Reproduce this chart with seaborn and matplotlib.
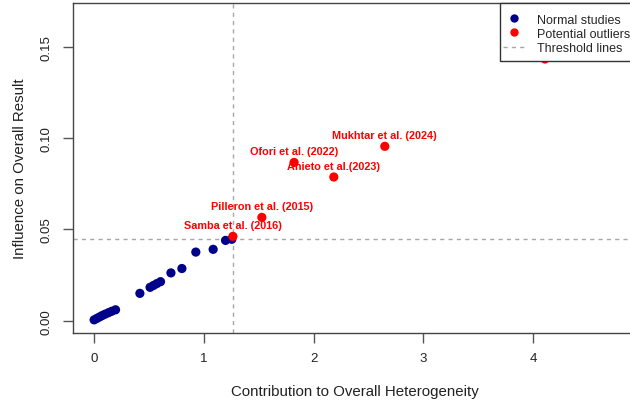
import numpy as np
import pandas as pd
import matplotlib
matplotlib.use("Agg")
import matplotlib.pyplot as plt
import seaborn as sns
from matplotlib.lines import Line2D
from matplotlib.patches import Rectangle

# ---- data ----
normal_x = [0.00, 0.025, 0.05, 0.075, 0.10, 0.13, 0.16, 0.195, 0.417, 0.51, 0.54, 0.57, 0.605,
            0.70, 0.80, 0.927, 1.085, 1.198, 1.255]
normal_y = [0.0005, 0.0013, 0.0021, 0.0029, 0.0036, 0.0044, 0.0052, 0.0060, 0.0150, 0.0183, 0.0193,
            0.0203, 0.0214, 0.0262, 0.0286, 0.0376, 0.0391, 0.0440, 0.0446]
outlier_names = ["Samba et al. (2016)", "Pilleron et al. (2015)", "Ofori et al. (2022)",
                 "Anieto et al.(2023)", "Mukhtar et al. (2024)", ""]
outlier_x = [1.265, 1.529, 1.823, 2.185, 2.650, 4.11]
outlier_y = [0.0462, 0.0566, 0.0867, 0.0787, 0.0955, 0.1433]
x_threshold = 1.267
y_threshold = 0.045
x_ticks = [0, 1, 2, 3, 4]
y_ticks = [0.00, 0.05, 0.10, 0.15]
legend_labels = ["Normal studies", "Potential outliers", "Threshold lines"]

df = pd.DataFrame({
    "x": normal_x + outlier_x,
    "y": normal_y + outlier_y,
    "group": ["Normal studies"] * len(normal_x) + ["Potential outliers"] * len(outlier_x),
})

sns.set_style("white")
plt.rcParams["font.family"] = ["Liberation Sans", "DejaVu Sans"]

W, H = 630, 402
fig = plt.figure(figsize=(W / 100, H / 100), dpi=100)
left, right, top, bottom = 73.3, 636.0, 4.3, 334.0
ax = fig.add_axes([left / W, 1 - bottom / H, (right - left) / W, (bottom - top) / H])

ax.axvline(x_threshold, color="#A8A8A8", lw=1.0, ls=(0, (3, 3)), zorder=1)
ax.axhline(y_threshold, color="#A8A8A8", lw=1.0, ls=(0, (3, 3)), zorder=1)

sns.scatterplot(data=df, x="x", y="y", hue="group",
                palette={"Normal studies": "#00008B", "Potential outliers": "#FF0000"},
                s=44, edgecolor="none", linewidth=0, legend=False, ax=ax, zorder=3)

for name, xv, yv in zip(outlier_names, outlier_x, outlier_y):
    if name:
        ax.annotate(name, (xv, yv), xytext=(0, 8), textcoords="offset points",
                    ha="center", va="center", color="#FF0000", fontweight="bold",
                    fontsize=7.8, zorder=4)

ax.set_xlim(-0.19, 4.94)
ax.set_ylim(-0.0067, 0.1738)
ax.set_xticks(x_ticks)
ax.set_xticklabels([str(t) for t in x_ticks])
ax.set_yticks(y_ticks)
ax.set_yticklabels([f"{t:.2f}" for t in y_ticks], rotation=90, va="center")
ax.tick_params(axis="both", length=7, width=1, color="#555555", labelsize=9.5,
               labelcolor="#222222", direction="out", bottom=True, left=True)
ax.tick_params(axis="x", pad=7)
ax.tick_params(axis="y", pad=8)
for sp in ax.spines.values():
    sp.set_color("#444444")
    sp.set_linewidth(1.0)

ax.set_xlabel("Contribution to Overall Heterogeneity", fontsize=10.8, color="#222222", labelpad=14)
ax.set_ylabel("Influence on Overall Result", fontsize=10.8, color="#222222", labelpad=10)

# legend box (drawn manually so content can sit exactly)
box = Rectangle((500 / W, 1 - 61.7 / H), 150 / W, (61.7 - 4.3) / H, transform=fig.transFigure,
                facecolor="white", edgecolor="#333333", lw=1.0, zorder=9)
fig.patches.append(box)

handles = [
    Line2D([], [], marker="o", ls="none", color="#00008B", markersize=5),
    Line2D([], [], marker="o", ls="none", color="#FF0000", markersize=5),
    Line2D([], [], color="#A8A8A8", lw=1.0, ls=(0, (3, 3))),
]
leg = fig.legend(handles, legend_labels, loc="upper left",
                 bbox_to_anchor=(503 / W, 1 - 14.5 / H), bbox_transform=fig.transFigure,
                 frameon=False, fontsize=9.0, handlelength=1.76, handletextpad=0.95,
                 labelspacing=0.18, borderpad=0, borderaxespad=0)
leg.set_zorder(10)

fig.savefig("out.png", dpi=100)
